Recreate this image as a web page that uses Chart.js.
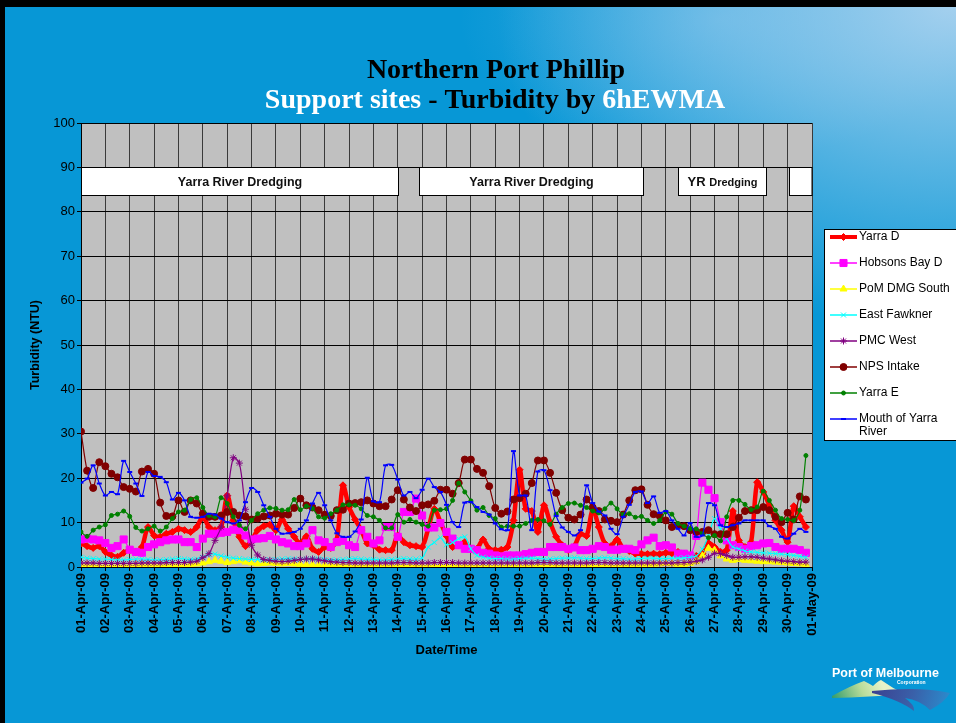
<!DOCTYPE html>
<html>
<head>
<meta charset="utf-8">
<script src="https://cdn.jsdelivr.net/npm/chart.js@4.4.1/dist/chart.umd.min.js"></script>
<style>
  html, body { margin: 0; padding: 0; }
  body {
    width: 956px; height: 723px; overflow: hidden; position: relative;
    background:
      radial-gradient(ellipse 460px 330px at 100% 0%, rgba(175,212,240,0.95), rgba(175,212,240,0) 100%),
      radial-gradient(ellipse 260px 140px at 720px 20px, rgba(120,190,235,0.5), rgba(120,190,235,0) 100%),
      #0797d6;
  }
  #frame { position: absolute; left: 0; top: 0; width: 956px; height: 723px; box-sizing: border-box;
    border-top: 7px solid #000; border-left: 5px solid #000; pointer-events: none; }
  canvas { position: absolute; left: 0; top: 0; }
</style>
</head>
<body>
<canvas id="turbChart" width="956" height="723"></canvas>
<div id="frame"></div>
<script>
// tick labels, one per day
const dateLabels = [
  "01-Apr-09", "02-Apr-09", "03-Apr-09", "04-Apr-09", "05-Apr-09", "06-Apr-09", "07-Apr-09", "08-Apr-09",
  "09-Apr-09", "10-Apr-09", "11-Apr-09", "12-Apr-09", "13-Apr-09", "14-Apr-09", "15-Apr-09", "16-Apr-09",
  "17-Apr-09", "18-Apr-09", "19-Apr-09", "20-Apr-09", "21-Apr-09", "22-Apr-09", "23-Apr-09", "24-Apr-09",
  "25-Apr-09", "26-Apr-09", "27-Apr-09", "28-Apr-09", "29-Apr-09", "30-Apr-09", "01-May-09"
];

// 6-hourly readings (4 per day), NTU
const yarraD = [
  5.3, 4.7, 4.3, 4.7, 3.4, 2.6, 2.3, 3.2, 3.8, 3.4,
  4.5, 9, 7.1, 6.8, 7.5, 7.9, 8.6, 8.3, 7.9, 9,
  11.3, 9, 8.3, 9, 16.1, 10.5, 6.8, 4.7, 6, 8.3,
  9.2, 9.5, 8.3, 10.7, 8.6, 6.8, 5.3, 6.9, 4.1, 3.4,
  4.5, 4.3, 6.2, 18.4, 13.5, 10.7, 8.3, 5.3, 4.9, 3.9,
  3.8, 3.8, 7.1, 5.6, 4.9, 4.7, 4.5, 8.6, 13.1, 10.1,
  7, 4.5, 4.9, 5.6, 4.1, 4.1, 6.2, 4.1, 3.8, 3.9,
  4.5, 10.5, 21.9, 13.1, 12.6, 7.9, 13.9, 10.1, 6.8, 4.9,
  3.8, 4.7, 7.5, 7, 13, 9, 5.3, 4.7, 6.2, 4.1,
  3.6, 3, 3, 2.9, 3, 2.9, 3.2, 3.1, 3.4, 3,
  2.5, 2.5, 3, 5.4, 4.5, 3.4, 3.8, 12.6, 6, 4.5,
  5.6, 19.1, 16.9, 13.9, 10.5, 8.3, 5.6, 13.7, 11.3, 9
];
const hobsonsBayD = [
  6.2, 6.4, 6.2, 6, 5.4, 4.3, 4.7, 6.2, 3.9, 3.4,
  3.2, 4.5, 5.1, 5.6, 6, 6.2, 6.2, 5.6, 5.6, 4.5,
  6.4, 7.5, 7.5, 7.7, 7.9, 8.4, 8.3, 7.1, 6.2, 6.4,
  6.5, 7, 6.2, 5.6, 5.3, 4.7, 4.7, 5.3, 8.3, 6,
  5.6, 4.5, 5.6, 5.9, 4.9, 4.5, 8.3, 6.8, 5.3, 6,
  9, 9, 6.8, 12.4, 12.4, 15.4, 11.6, 8.9, 8.9, 9.9,
  7.9, 6.4, 4.9, 4.1, 4.1, 3.8, 3.2, 3, 2.6, 2.4,
  2.6, 2.6, 2.6, 2.9, 3.2, 3.4, 3.4, 4.5, 4.5, 4.5,
  4.1, 4.4, 3.8, 3.8, 4.1, 4.7, 4.5, 3.9, 3.9, 4.1,
  4.1, 3.8, 5.1, 6, 6.6, 4.7, 4.9, 4.4, 3, 3,
  2.6, 7, 19, 17.4, 15.5, 10.1, 6, 4.9, 4.5, 4.1,
  4.7, 4.9, 5.3, 5.4, 4.5, 4.1, 4.1, 4.1, 3.8, 3.2
];
const pomDmgSouth = [
  0.4, 0.4, 0.3, 0.3, 0.3, 0.3, 0.3, 0.3, 0.3, 0.4,
  0.4, 0.4, 0.4, 0.4, 0.4, 0.5, 0.5, 0.5, 0.6, 0.7,
  0.9, 1.2, 1.5, 1.3, 1, 1.2, 1.4, 1.1, 0.9, 0.7,
  0.8, 0.9, 0.8, 0.7, 0.8, 0.7, 0.6, 0.5, 0.5, 0.4,
  0.4, 0.4, 0.4, 0.4, 0.3, 0.3, 0.3, 0.3, 0.3, 0.3,
  0.3, 0.3, 0.3, 0.3, 0.3, 0.3, 0.3, 0.3, 0.3, 0.3,
  0.3, 0.3, 0.3, 0.3, 0.3, 0.2, 0.2, 0.2, 0.2, 0.2,
  0.2, 0.2, 0.2, 0.2, 0.3, 0.3, 0.3, 0.3, 0.3, 0.3,
  0.3, 0.3, 0.3, 0.3, 0.3, 0.3, 0.3, 0.3, 0.3, 0.3,
  0.4, 0.4, 0.5, 0.5, 0.6, 0.7, 0.8, 0.7, 0.6, 0.6,
  0.8, 1.2, 2.5, 4.2, 3.8, 2.5, 1.8, 1.5, 1.7, 1.5,
  1.4, 1.3, 1.2, 1.2, 1.1, 1, 0.9, 0.8, 0.7, 0.6
];
const eastFawkner = [
  2.2, 2, 1.9, 1.8, 1.8, 1.7, 1.6, 1.6, 1.7, 1.8,
  1.8, 1.7, 1.6, 1.6, 1.7, 1.8, 1.9, 1.8, 1.7, 1.8,
  2.2, 2.8, 2.9, 2.5, 2.2, 2, 1.9, 1.8, 1.7, 1.7,
  1.6, 1.6, 1.7, 1.8, 1.9, 1.8, 1.7, 1.8, 1.9, 1.8,
  1.7, 1.6, 1.6, 1.7, 1.8, 1.9, 1.8, 1.7, 1.7, 1.6,
  1.6, 1.7, 1.8, 1.9, 1.8, 1.8, 2, 4.5, 5.5, 6.6,
  5, 5.5, 6.4, 6.8, 4.1, 2.6, 2.2, 2, 1.9, 1.9,
  1.8, 1.8, 1.9, 2, 2, 1.9, 1.8, 1.8, 1.9, 2,
  2, 2.1, 2, 1.9, 1.9, 2, 2.1, 2, 1.9, 1.9,
  1.8, 1.8, 1.9, 2, 2, 1.9, 1.9, 2, 2, 2.1,
  2.2, 2.5, 4, 7, 10.9, 8.5, 6.4, 4.5, 4.1, 3.6,
  3.4, 3.3, 3.2, 3.1, 3, 2.9, 2.8, 2.6, 2.4, 2.2
];
const pmcWest = [
  0.9, 0.9, 0.9, 0.8, 0.8, 0.8, 0.8, 0.8, 0.8, 0.8,
  0.9, 0.9, 0.9, 0.9, 1, 1, 1, 1, 1.1, 1.3,
  2.1, 3, 6, 9, 16, 24.6, 23.4, 13, 4.9, 2.7,
  1.7, 1.5, 1.3, 1.2, 1.3, 1.5, 1.7, 1.8, 1.8, 1.6,
  1.4, 1.2, 1.1, 1, 1, 0.9, 0.9, 0.9, 0.9, 0.9,
  0.9, 0.9, 1, 1, 1, 0.9, 0.9, 0.9, 1, 1,
  1, 1, 0.9, 0.9, 0.9, 0.9, 0.9, 0.9, 0.9, 0.9,
  0.9, 0.9, 0.9, 0.9, 0.9, 1, 1, 1, 0.9, 0.9,
  0.9, 0.9, 0.9, 0.9, 1, 1, 1, 0.9, 0.9, 0.9,
  0.9, 0.9, 0.9, 0.9, 0.9, 0.9, 0.9, 0.9, 1, 1,
  1.1, 1.3, 1.6, 2.2, 3.1, 3, 2.6, 2.2, 2.2, 2.3,
  2.3, 2.2, 2, 1.8, 1.6, 1.4, 1.3, 1.2, 1.1, 1.1
];
const npsIntake = [
  30.5, 21.7, 17.8, 23.6, 22.7, 21, 20.2, 18, 17.6, 17,
  21.5, 22.1, 21, 14.5, 11.5, 11.4, 15, 12.4, 15, 14.3,
  12, 11.3, 11.3, 11.6, 12.4, 12.4, 11.6, 11.4, 10.7, 10.9,
  11.4, 11.6, 12, 11.8, 11.8, 13.3, 15.4, 13.9, 13.4, 12.8,
  11.8, 11.5, 12.8, 12.9, 14.3, 14.4, 14.6, 15, 14.3, 13.7,
  13.7, 15.2, 17.3, 15.2, 13.4, 12.6, 13.9, 14.1, 14.9, 17.4,
  17.4, 16.5, 18.9, 24.2, 24.2, 22.1, 21.2, 18.2, 13.3, 12,
  12.5, 15.2, 15.5, 16.5, 18.9, 24, 24, 21.2, 16.7, 12.8,
  11.1, 10.7, 11.8, 15.2, 13.4, 12.6, 10.7, 10.4, 10.1, 11.8,
  15, 17.3, 17.5, 14, 11.9, 11.5, 10.5, 9, 9.4, 9.2,
  8.3, 7.9, 7.9, 8.3, 7.4, 7.4, 7.4, 9, 11.1, 12.6,
  12.8, 12.8, 13.5, 12.8, 11.3, 10.1, 12.2, 10.7, 15.9, 15.2
];
const yarraE = [
  7.9, 6.9, 8.3, 9, 9.5, 11.6, 11.9, 12.6, 11.4, 8.9,
  8.1, 8.6, 9.2, 8.1, 9, 10.9, 12.4, 12.8, 15.2, 15.6,
  13.4, 11.6, 11.3, 15.6, 14.3, 11.3, 9.4, 8.6, 10.5, 12,
  12.8, 13.3, 13.2, 12.8, 12.9, 15.2, 12.9, 13.7, 13.2, 11.3,
  11, 12, 12.8, 14, 14, 13.9, 13.1, 11.6, 11.3, 10.5,
  8.8, 8.8, 11.8, 10.1, 10.7, 10.1, 9.6, 9.2, 12.8, 12.9,
  13.1, 15, 18.9, 16.9, 14.9, 12.8, 13.4, 11.6, 10.9, 9,
  9.2, 9.2, 9.2, 9.8, 10.5, 10.7, 10.4, 9.6, 11.9, 13.4,
  14.3, 14.4, 13.9, 13.4, 12.6, 12.2, 13.1, 14.4, 13.1, 11.8,
  12, 11.2, 11.4, 10.5, 9.8, 10.5, 12.4, 11.9, 9.8, 9.2,
  8.6, 8.6, 7.5, 6.6, 7.1, 5.9, 11.3, 15, 15, 14.1,
  12.9, 13.5, 17.1, 15, 12.8, 10.9, 10.7, 10.5, 12.8, 25.1
];
const mouthOfYarra = [
  19, 19.9, 22.9, 18.8, 16.1, 16.9, 16.4, 23.9, 21.4, 18.8,
  16, 21.4, 20.5, 20.3, 19.1, 15.2, 16.7, 15, 11.3, 11.1,
  11.3, 12, 11.8, 10.9, 10.1, 9.8, 10.5, 14.6, 17.8, 16.9,
  13.9, 11.3, 8.6, 7.5, 7.6, 7.9, 8.6, 10.5, 14.3, 16.7,
  13.9, 10.5, 7.6, 6.8, 6.8, 8, 10.7, 20.1, 14.8, 14.6,
  22.9, 23, 19.7, 16.1, 16.9, 15.5, 17.4, 19.9, 18, 16.9,
  14, 10.1, 9, 14.5, 14.6, 13.5, 12.4, 11.8, 9.8, 8.5,
  8.3, 26.1, 16.1, 16.1, 8.3, 21.5, 21.8, 17.3, 11.5, 8.9,
  7.9, 7.1, 8.3, 18.4, 14.4, 12.5, 11.6, 8.6, 7.4, 11.3,
  14, 16.9, 17, 14.4, 15.9, 12.2, 12.6, 10.5, 8.6, 7.1,
  9.9, 6.8, 7.1, 14.4, 13.9, 9.4, 9, 9.4, 9.8, 10.5,
  10.5, 10.5, 10.5, 9.2, 8.6, 6.8, 6.4, 7.5, 8.6, 7.9
];

// dredging periods, in days from 01-Apr
const dredgeStart = [0, 13.87, 24.5, 29.05];
const dredgeEnd = [13, 23.06, 28.1, 30];
const dredgeText = ["Yarra River Dredging", "Yarra River Dredging", "YR Dredging", ""];

const SAMPLES_PER_DAY = 4;
const FONT = "'Liberation Sans', Arial, sans-serif";

const toXY = (arr) => arr.map((v, i) => ({ x: i / SAMPLES_PER_DAY, y: v }));

const series = [
  { label: "Yarra D", data: yarraD, color: "#ff0000", width: 4.5, style: "rectRot", radius: 3.5 },
  { label: "Hobsons Bay D", data: hobsonsBayD, color: "#ff00ff", width: 1.2, style: "rect", radius: 5 },
  { label: "PoM DMG South", data: pomDmgSouth, color: "#ffff00", width: 1.2, style: "triangle", radius: 4 },
  { label: "East Fawkner", data: eastFawkner, color: "#00ffff", width: 1.2, style: "crossRot", radius: 3.5 },
  { label: "PMC West", data: pmcWest, color: "#800080", width: 1.2, style: "star", radius: 3.5 },
  { label: "NPS Intake", data: npsIntake, color: "#800000", width: 1.2, style: "circle", radius: 3.5 },
  { label: "Yarra E", data: yarraE, color: "#008000", width: 1.2, style: "circle", radius: 2 },
  { label: "Mouth of Yarra River", data: mouthOfYarra, color: "#0000ff", width: 1.2, style: "line", radius: 2.5 }
];

const plotBg = {
  id: "plotBg",
  beforeDraw(chart) {
    const { ctx, chartArea: a } = chart;
    ctx.save();
    ctx.fillStyle = "#c0c0c0";
    ctx.fillRect(a.left, a.top, a.right - a.left, a.bottom - a.top);
    ctx.restore();
  }
};

const dredgeBoxes = {
  id: "dredgeBoxes",
  beforeDatasetsDraw(chart) {
    const { ctx, chartArea: a, scales: { x, y } } = chart;
    const top = y.getPixelForValue(90);
    const bot = y.getPixelForValue(83.6);
    ctx.save();
    dredgeStart.forEach((s, k) => {
      const l = Math.round(x.getPixelForValue(s)) + 0.5;
      const r = Math.min(Math.round(x.getPixelForValue(dredgeEnd[k])) + 0.5, a.right);
      ctx.fillStyle = "#fff";
      ctx.fillRect(l, top, r - l, bot - top);
      ctx.strokeStyle = "#000";
      ctx.lineWidth = 1;
      ctx.strokeRect(l, Math.round(top) + 0.5, r - l, Math.round(bot - top));
      const txt = dredgeText[k];
      if (!txt) return;
      ctx.fillStyle = "#111";
      ctx.textBaseline = "middle";
      const cx = (l + r) / 2, cy = (top + bot) / 2 + 1;
      if (txt.startsWith("YR ")) {
        ctx.font = "bold 13px " + FONT;
        const w1 = ctx.measureText("YR ").width;
        ctx.font = "bold 11px " + FONT;
        const w2 = ctx.measureText("Dredging").width;
        let sx = cx - (w1 + w2) / 2;
        ctx.textAlign = "left";
        ctx.font = "bold 13px " + FONT;
        ctx.fillText("YR ", sx, cy);
        ctx.font = "bold 11px " + FONT;
        ctx.fillText("Dredging", sx + w1, cy);
      } else {
        ctx.font = "bold 12.5px " + FONT;
        ctx.textAlign = "center";
        ctx.fillText(txt, cx, cy);
      }
    });
    ctx.restore();
  }
};

const slideDecor = {
  id: "slideDecor",
  afterDraw(chart) {
    const { ctx } = chart;
    ctx.save();
    // title
    ctx.textBaseline = "alphabetic";
    ctx.font = "bold 28px 'Liberation Serif', 'DejaVu Serif', serif";
    ctx.fillStyle = "#000";
    ctx.textAlign = "center";
    ctx.fillText("Northern Port Phillip", 496, 78);
    const parts = [["Support sites", "#fff"], [" - Turbidity by ", "#000"], ["6hEWMA", "#fff"]];
    const total = parts.reduce((s, p) => s + ctx.measureText(p[0]).width, 0);
    let px = 495 - total / 2;
    ctx.textAlign = "left";
    parts.forEach(([t, c]) => {
      ctx.fillStyle = c;
      ctx.fillText(t, px, 108);
      px += ctx.measureText(t).width;
    });

    // legend
    const lx = 824.5, ly = 229.5;
    ctx.fillStyle = "#fff";
    ctx.fillRect(lx, ly, 140, 211);
    ctx.strokeStyle = "#000";
    ctx.lineWidth = 1;
    ctx.strokeRect(lx, ly, 140, 211);
    const rowY = [237, 263, 289, 315, 341, 367, 393, 419];
    ctx.font = "12px " + FONT;
    ctx.textBaseline = "middle";
    series.forEach((s, k) => {
      const yy = rowY[k];
      ctx.strokeStyle = s.color;
      ctx.fillStyle = s.color;
      ctx.lineWidth = s.width > 2 ? 4 : 1.5;
      ctx.beginPath();
      ctx.moveTo(830, yy);
      ctx.lineTo(857, yy);
      ctx.stroke();
      ctx.lineWidth = s.style === "line" ? 2 : 1;
      Chart.helpers.drawPoint(ctx, { pointStyle: s.style, radius: s.radius, rotation: 0, borderWidth: ctx.lineWidth }, 843.5, yy);
      ctx.fillStyle = "#000";
      const words = s.label.split(" ");
      const lines = [];
      let cur = "";
      words.forEach((w) => {
        const test = cur ? cur + " " + w : w;
        if (ctx.measureText(test).width > 92 && cur) { lines.push(cur); cur = w; } else cur = test;
      });
      lines.push(cur);
      lines.forEach((t, j) => ctx.fillText(t, 859, yy + j * 13));
    });

    // logo
    const g1 = ctx.createLinearGradient(832, 700, 880, 680);
    g1.addColorStop(0, "#2f9a6a");
    g1.addColorStop(0.6, "#b8dc9a");
    g1.addColorStop(1, "#e6f2c8");
    ctx.fillStyle = g1;
    ctx.beginPath();
    ctx.moveTo(832, 696);
    ctx.quadraticCurveTo(850, 686, 864, 681);
    ctx.quadraticCurveTo(870, 684, 873, 686);
    ctx.quadraticCurveTo(878, 681, 881, 680);
    ctx.quadraticCurveTo(892, 688, 905, 694);
    ctx.quadraticCurveTo(870, 697, 832, 698);
    ctx.closePath();
    ctx.fill();
    const g2 = ctx.createLinearGradient(870, 690, 950, 712);
    g2.addColorStop(0, "#3b3f8f");
    g2.addColorStop(0.5, "#3a5fa8");
    g2.addColorStop(1, "#2a8fd0");
    ctx.fillStyle = g2;
    ctx.beginPath();
    ctx.moveTo(872, 691);
    ctx.quadraticCurveTo(920, 686, 950, 693);
    ctx.quadraticCurveTo(945, 702, 930, 710);
    ctx.quadraticCurveTo(920, 700, 905, 698);
    ctx.quadraticCurveTo(915, 705, 914, 711);
    ctx.quadraticCurveTo(900, 700, 872, 693);
    ctx.closePath();
    ctx.fill();
    ctx.fillStyle = "#fff";
    ctx.textAlign = "left";
    ctx.textBaseline = "alphabetic";
    ctx.font = "bold 12.5px 'Liberation Sans Narrow', 'Liberation Sans', Arial, sans-serif";
    ctx.fillText("Port of Melbourne", 832, 677);
    ctx.font = "bold 5px " + FONT;
    ctx.fillText("Corporation", 897, 684);
    ctx.restore();
  }
};

new Chart(document.getElementById("turbChart"), {
  type: "line",
  data: {
    datasets: series.map((s, k) => ({
      label: s.label,
      data: toXY(s.data),
      borderColor: s.color,
      backgroundColor: s.color,
      borderWidth: s.width,
      pointStyle: s.style,
      pointRadius: s.radius,
      pointBorderWidth: s.style === "line" ? 2 : 1,
      tension: 0.3,
      fill: false,
      order: series.length - k
    }))
  },
  options: {
    responsive: false,
    animation: false,
    events: [],
    layout: { padding: { left: 24, right: 144, top: 123, bottom: 61 } },
    plugins: { legend: { display: false }, title: { display: false }, tooltip: { enabled: false } },
    scales: {
      x: {
        type: "linear",
        min: 0,
        max: 30,
        afterFit: (scale) => { scale.height = 95; },
        grid: { color: "#3a3a3a", lineWidth: 1, tickLength: 4, tickColor: "#000" },
        border: { color: "#000", width: 1 },
        ticks: {
          stepSize: 1,
          maxTicksLimit: 31,
          autoSkip: false,
          minRotation: 90,
          maxRotation: 90,
          padding: 2,
          color: "#000",
          font: { family: FONT, size: 13, weight: "bold" },
          callback: (v) => dateLabels[Math.round(v)]
        },
        title: { display: true, text: "Date/Time", color: "#000", font: { family: FONT, size: 13, weight: "bold" } }
      },
      y: {
        min: 0,
        max: 100,
        afterFit: (scale) => { scale.width = 57; },
        grid: { color: "#000", lineWidth: 1, tickLength: 4, tickColor: "#000" },
        border: { color: "#000", width: 1 },
        ticks: { stepSize: 10, padding: 2, color: "#000", font: { family: FONT, size: 13 } },
        title: { display: true, text: "Turbidity (NTU)", color: "#000", font: { family: FONT, size: 12.5, weight: "bold" } }
      }
    }
  },
  plugins: [plotBg, dredgeBoxes, slideDecor]
});
</script>
</body>
</html>
